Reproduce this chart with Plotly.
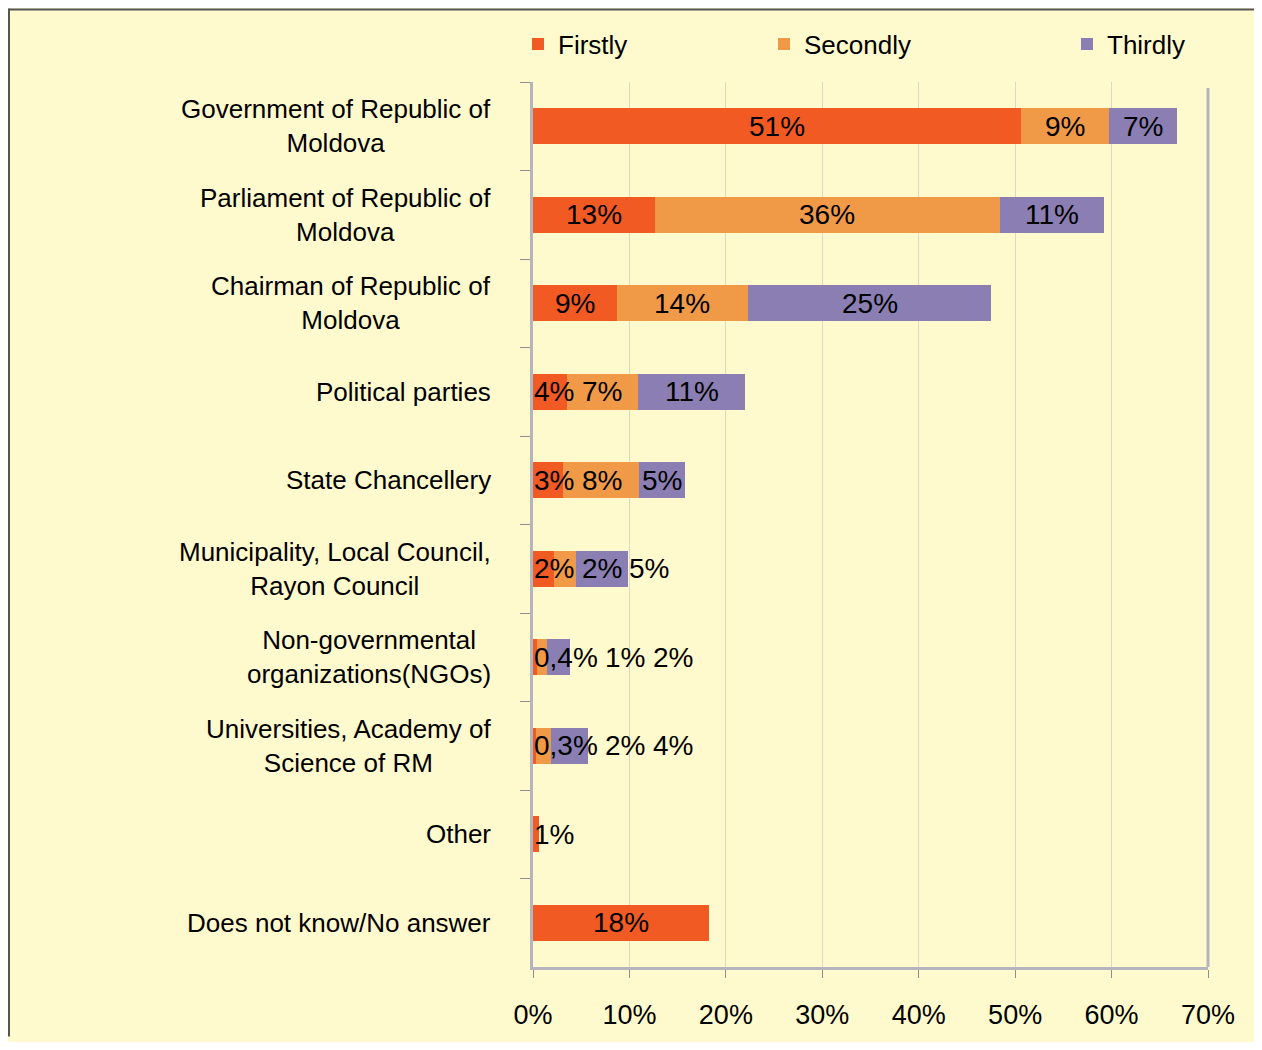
import plotly.graph_objects as go

categories = [
    "Government of Republic of<br>Moldova",
    "Parliament of Republic of<br>Moldova",
    "Chairman of Republic of<br>Moldova",
    "Political parties",
    "State Chancellery",
    "Municipality, Local Council,<br>Rayon Council",
    "Non-governmental<br>organizations(NGOs)",
    "Universities, Academy of<br>Science of RM",
    "Other",
    "Does not know/No answer",
]
series_names = ["Firstly", "Secondly", "Thirdly"]
firstly = [50.6, 12.6, 8.7, 3.5, 3.1, 2.2, 0.4, 0.3, 0.6, 18.3]
secondly = [9.1, 35.8, 13.6, 7.4, 7.9, 2.3, 1.0, 1.6, 0, 0]
thirdly = [7.1, 10.8, 25.2, 11.1, 4.8, 5.3, 2.4, 3.8, 0, 0]
firstly_labels = ["51%", "13%", "9%", "4%", "3%", "2%", "0,4%", "0,3%", "1%", "18%"]
secondly_labels = ["9%", "36%", "14%", "7%", "8%", "2%", "1%", "2%", "", ""]
thirdly_labels = ["7%", "11%", "25%", "11%", "5%", "5%", "2%", "4%", "", ""]
x_ticks = [0, 10, 20, 30, 40, 50, 60, 70]

colors = ["#F25A24", "#F09A48", "#8A7EB3"]
BG = "#FFFACD"
FONT = "Liberation Sans, Arial, sans-serif"

W, H = 1252, 1034
ML, MR, MT, MB = 525, 52, 74, 70
PW = W - ML - MR
PH = H - MT - MB
XMAX = 70
ppu = PW / XMAX
LABEL_SIZE = 28

legend_ids = ["legend", "legend2", "legend3"]
legend_left_px = [510, 756, 1059]  # figure px where each legend entry starts

fig = go.Figure()
for name, vals, col, lid in zip(series_names, [firstly, secondly, thirdly], colors, legend_ids):
    fig.add_trace(go.Bar(
        y=categories, x=vals, name=name, orientation="h",
        marker=dict(color=col, line=dict(width=0)),
        hoverinfo="x+y", legend=lid,
    ))

# data labels: centred on segment, pushed right to avoid overlapping
cw = {"%": 0.889, ",": 0.278}
def text_w(s):
    return sum(cw.get(ch, 0.556) for ch in s) * LABEL_SIZE / ppu

annotations = []
gap = 7 / ppu
min_left = 1 / ppu
for i, cat in enumerate(categories):
    start = 0.0
    prev_right = -1e9
    for vals, labs in zip([firstly, secondly, thirdly],
                          [firstly_labels, secondly_labels, thirdly_labels]):
        v = vals[i]
        lab = labs[i]
        if lab:
            w = text_w(lab)
            c = start + v / 2
            left = max(c - w / 2, prev_right + gap, min_left)
            annotations.append(dict(
                x=left + w / 2, y=cat, xref="x", yref="y", text=lab,
                showarrow=False, xanchor="center", yanchor="middle",
                font=dict(size=LABEL_SIZE, color="black", family=FONT),
            ))
            prev_right = left + w
        start += v

# category labels, centred multi-line
for cat in categories:
    annotations.append(dict(
        x=-40 / PW, y=cat, xref="paper", yref="y", text=cat,
        showarrow=False, xanchor="right", yanchor="middle", align="center",
        font=dict(size=26, color="black", family=FONT),
    ))

# outer frame (top and left edges visible) + right plot-area edge
shapes = [
    dict(type="line", xref="paper", yref="paper",
         x0=(0.75 - ML) / PW, x1=(W - ML) / PW,
         y0=1 + (MT - 1) / PH, y1=1 + (MT - 1) / PH,
         line=dict(color="#555555", width=2)),
    dict(type="line", xref="paper", yref="paper",
         x0=(-1 - ML) / PW + 2 / PW, x1=(-1 - ML) / PW + 2 / PW,
         y0=-MB / PH, y1=1 + MT / PH,
         line=dict(color="#555555", width=2)),
    dict(type="line", xref="paper", yref="paper",
         x0=1, x1=1, y0=0, y1=1 - 6 / PH,
         line=dict(color="#B4B4BE", width=3)),
]

legends = {}
for lid, lx in zip(legend_ids, legend_left_px):
    legends[lid] = dict(
        orientation="h", x=(lx - ML) / PW, y=1 + 38 / PH,
        xanchor="left", yanchor="middle",
        font=dict(size=26, color="black", family=FONT),
        bgcolor="rgba(0,0,0,0)",
    )

fig.update_layout(
    width=W, height=H,
    margin=dict(l=ML, r=MR, t=MT, b=MB, pad=0),
    paper_bgcolor=BG, plot_bgcolor=BG,
    barmode="stack", bargap=0.596,
    font=dict(family=FONT, color="black"),
    showlegend=True,
    annotations=annotations,
    shapes=shapes,
    xaxis=dict(
        range=[0, XMAX], tickvals=x_ticks, ticktext=[f"{t}%" for t in x_ticks],
        showgrid=True, gridcolor="#DADAC4", gridwidth=1,
        showline=True, linecolor="#B4B4BE", linewidth=3,
        ticks="outside", ticklen=8, tickcolor="#909090", tickwidth=1,
        ticklabelstandoff=14,
        tickfont=dict(size=27, family=FONT, color="black"),
        zeroline=False, fixedrange=True,
    ),
    yaxis=dict(
        autorange="reversed", type="category",
        showticklabels=False, showgrid=False,
        showline=True, linecolor="#B4B4BE", linewidth=3,
        ticks="outside", ticklen=10, tickcolor="#909090", tickwidth=1,
        tickson="boundaries", fixedrange=True,
    ),
    **legends,
)

fig.write_html("out.html")
